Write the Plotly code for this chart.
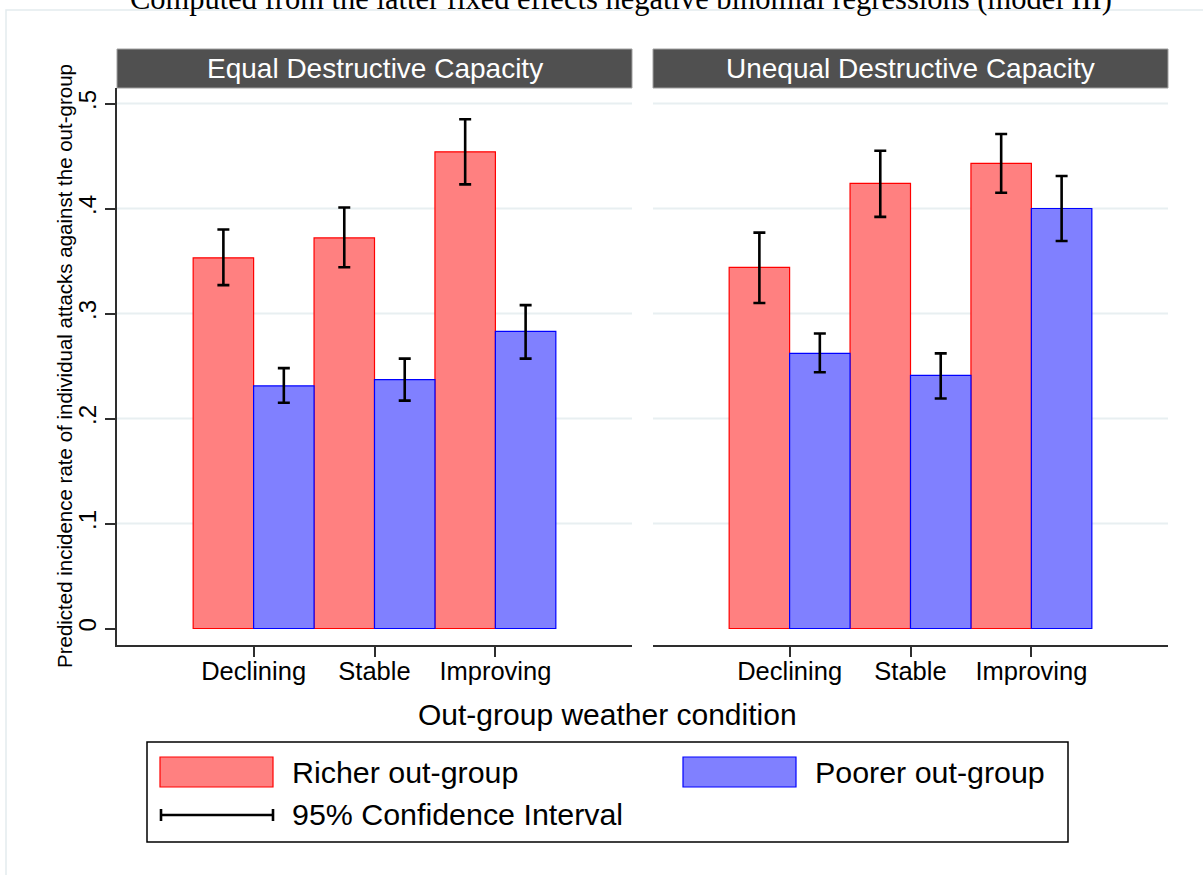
import plotly.graph_objects as go

# ---------------- data ----------------
categories = ["Declining", "Stable", "Improving"]
panels = ["Equal Destructive Capacity", "Unequal Destructive Capacity"]

equal_richer = [0.353, 0.372, 0.454]
equal_richer_lo = [0.327, 0.344, 0.423]
equal_richer_hi = [0.380, 0.401, 0.485]
equal_poorer = [0.231, 0.237, 0.283]
equal_poorer_lo = [0.215, 0.217, 0.257]
equal_poorer_hi = [0.248, 0.257, 0.308]

unequal_richer = [0.344, 0.424, 0.443]
unequal_richer_lo = [0.310, 0.392, 0.415]
unequal_richer_hi = [0.377, 0.455, 0.471]
unequal_poorer = [0.262, 0.241, 0.400]
unequal_poorer_lo = [0.244, 0.219, 0.369]
unequal_poorer_hi = [0.281, 0.262, 0.431]

ytick_vals = [0, 0.1, 0.2, 0.3, 0.4, 0.5]
ytick_text = ["0", ".1", ".2", ".3", ".4", ".5"]
grid_vals = [0.1, 0.2, 0.3, 0.4, 0.5]

series_names = ["Richer out-group", "Poorer out-group"]
ci_label = "95% Confidence Interval"
x_title = "Out-group weather condition"
y_title = "Predicted incidence rate of individual attacks against the out-group"
top_title = "Computed from the latter fixed effects negative binomial regressions (model III)"

# ---------------- layout geometry ----------------
W, H = 1203, 875
ML, MR, MT, MB = 117, 35, 88, 230
PW = W - ML - MR
PH = H - MT - MB
FONT = "Liberation Sans, Arial, Helvetica, sans-serif"

def px(x):
    return (x - ML) / PW

def py(y):
    return (H - MB - y) / PH

RED_FILL, RED_LINE = "#ff8080", "#ff0000"
BLUE_FILL, BLUE_LINE = "#8080ff", "#0000ff"
GRID = "#e8eff1"
AXIS = "#2e2e2e"

fig = go.Figure()

def add_bars(vals, lo, hi, name, fill, line, xa, ya, offset):
    fig.add_trace(go.Bar(
        x=categories, y=vals, name=name, showlegend=False,
        xaxis=xa, yaxis=ya, width=0.5, offset=offset,
        marker=dict(color=fill, line=dict(color=line, width=1.2)),
        error_y=dict(type="data", symmetric=False,
                     array=[h - v for h, v in zip(hi, vals)],
                     arrayminus=[v - l for v, l in zip(vals, lo)],
                     color="black", thickness=2.6, width=6),
    ))

add_bars(equal_richer, equal_richer_lo, equal_richer_hi, series_names[0], RED_FILL, RED_LINE, "x", "y", -0.5)
add_bars(equal_poorer, equal_poorer_lo, equal_poorer_hi, series_names[1], BLUE_FILL, BLUE_LINE, "x", "y", 0.0)
add_bars(unequal_richer, unequal_richer_lo, unequal_richer_hi, series_names[0], RED_FILL, RED_LINE, "x2", "y2", -0.5)
add_bars(unequal_poorer, unequal_poorer_lo, unequal_poorer_hi, series_names[1], BLUE_FILL, BLUE_LINE, "x2", "y2", 0.0)

left_dom = [0, px(632)]
right_dom = [px(653), 1]
xr = [-1.13, 2 + 1.13]
yr = [(628.5 - 645) / 1050, (628.5 - 88) / 1050]

xaxis_common = dict(
    type="category", categoryorder="array", categoryarray=categories,
    range=xr, showline=True, linecolor=AXIS, linewidth=1.5,
    ticks="outside", ticklen=10, tickwidth=1.5, tickcolor=AXIS,
    ticklabelstandoff=-7,
    tickfont=dict(family=FONT, size=25.5, color="black"),
    showgrid=False, zeroline=False, fixedrange=True,
)

fig.update_layout(
    width=W, height=H,
    margin=dict(l=ML, r=MR, t=MT, b=MB, pad=0),
    paper_bgcolor="white", plot_bgcolor="white",
    barmode="overlay", showlegend=False,
    xaxis=dict(domain=left_dom, anchor="y", **xaxis_common),
    xaxis2=dict(domain=right_dom, anchor="y2", **xaxis_common),
    yaxis=dict(domain=[0, 1], anchor="x", range=yr,
               tickvals=ytick_vals, ticktext=ytick_text, tickangle=-90,
               tickfont=dict(family=FONT, size=24, color="black"),
               ticks="outside", ticklen=10, tickwidth=1.5, tickcolor=AXIS,
               showline=True, linecolor=AXIS, linewidth=1.5,
               showgrid=False, zeroline=False, fixedrange=True),
    yaxis2=dict(domain=[0, 1], anchor="x2", matches="y", range=yr,
                showticklabels=False, ticks="", showline=False,
                showgrid=False, zeroline=False, fixedrange=True),
)

shapes = []
# gridlines (no zero gridline)
for g in grid_vals:
    shapes.append(dict(type="line", xref="x domain", yref="y", x0=0, x1=1, y0=g, y1=g,
                       line=dict(color=GRID, width=1.8), layer="below"))
    shapes.append(dict(type="line", xref="x2 domain", yref="y2", x0=0, x1=1, y0=g, y1=g,
                       line=dict(color=GRID, width=1.8), layer="below"))

# panel header strips
annotations = []
for dom, label in [(left_dom, panels[0]), (right_dom, panels[1])]:
    shapes.append(dict(type="rect", xref="paper", yref="paper",
                       x0=dom[0], x1=dom[1], y0=py(88), y1=py(49),
                       fillcolor="#505050", line=dict(color="#a0a0a0", width=1)))
    annotations.append(dict(xref="paper", yref="paper", x=(dom[0] + dom[1]) / 2, y=py(68.5),
                            text=label, showarrow=False, xanchor="center", yanchor="middle",
                            font=dict(family=FONT, size=28, color="white")))

# outer graph frame
shapes.append(dict(type="rect", xref="paper", yref="paper",
                   x0=px(6), x1=px(1215), y0=py(890), y1=py(10),
                   line=dict(color="#e3ebee", width=1.5), layer="below"))

# legend box
shapes.append(dict(type="rect", xref="paper", yref="paper",
                   x0=px(147), x1=px(1068), y0=py(842), y1=py(742),
                   line=dict(color="black", width=1.5)))
# swatches
shapes.append(dict(type="rect", xref="paper", yref="paper",
                   x0=px(160), x1=px(273), y0=py(787), y1=py(757),
                   fillcolor=RED_FILL, line=dict(color=RED_LINE, width=1.2)))
shapes.append(dict(type="rect", xref="paper", yref="paper",
                   x0=px(683), x1=px(796), y0=py(787), y1=py(757),
                   fillcolor=BLUE_FILL, line=dict(color=BLUE_LINE, width=1.2)))
# CI symbol
shapes.append(dict(type="line", xref="paper", yref="paper",
                   x0=px(161), x1=px(273), y0=py(815), y1=py(815),
                   line=dict(color="black", width=2.6)))
for xc in (161, 273):
    shapes.append(dict(type="line", xref="paper", yref="paper",
                       x0=px(xc), x1=px(xc), y0=py(809), y1=py(821),
                       line=dict(color="black", width=2.6)))

legend_font = dict(family=FONT, size=30.4, color="black")
annotations += [
    dict(xref="paper", yref="paper", x=px(290), y=py(772), text=series_names[0],
         showarrow=False, xanchor="left", yanchor="middle", font=legend_font),
    dict(xref="paper", yref="paper", x=px(813), y=py(772), text=series_names[1],
         showarrow=False, xanchor="left", yanchor="middle", font=legend_font),
    dict(xref="paper", yref="paper", x=px(290), y=py(814), text=ci_label,
         showarrow=False, xanchor="left", yanchor="middle", font=legend_font),
    dict(xref="paper", yref="paper", x=px(607), y=py(714), text=x_title,
         showarrow=False, xanchor="center", yanchor="middle",
         font=dict(family=FONT, size=30, color="black")),
    dict(xref="paper", yref="paper", x=px(64), y=py(366), text=y_title, textangle=-90,
         showarrow=False, xanchor="center", yanchor="middle",
         font=dict(family=FONT, size=20.5, color="black")),
    dict(xref="paper", yref="paper", x=px(621), y=py(-1), text=top_title,
         showarrow=False, xanchor="center", yanchor="middle",
         font=dict(family="Liberation Serif, Times New Roman, serif", size=30.5, color="black")),
]

fig.update_layout(shapes=shapes, annotations=annotations)
fig.write_html("out.html", config={"displayModeBar": False},
               post_script="document.body.style.margin='0';")
